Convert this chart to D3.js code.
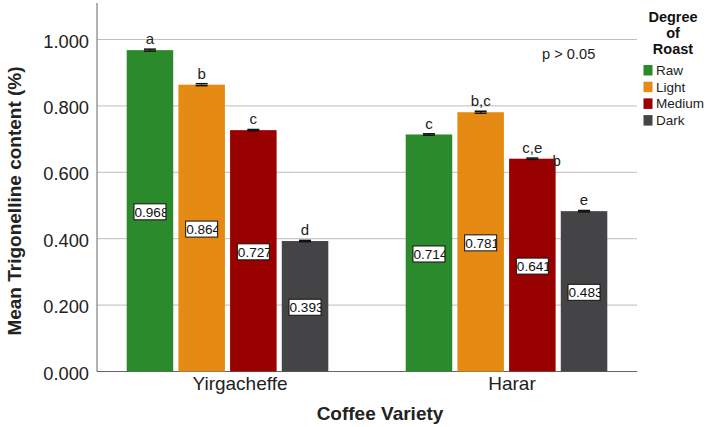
<!DOCTYPE html>
<html><head><meta charset="utf-8">
<script src="https://cdn.jsdelivr.net/npm/d3@7"></script>
<style>body{margin:0;background:#fff}svg{display:block;font-family:"Liberation Sans",Arial,sans-serif}</style>
</head><body><svg id="c" width="709" height="427"></svg>
<script>
const varieties = ["Yirgacheffe", "Harar"];
const roasts = ["Raw", "Light", "Medium", "Dark"];
const colors = ["#2b8a2b", "#e58b14", "#990000", "#444446"];
const yirgacheffe = [0.968, 0.864, 0.727, 0.393];
const harar = [0.714, 0.781, 0.641, 0.483];
const errors = [[0.003, 0.003, 0.002, 0.002], [0.002, 0.003, 0.002, 0.002]];
const letters = [["a", "b", "c", "d"], ["c", "b,c", "c,e", "e"]];
const yTicks = [0, 0.2, 0.4, 0.6, 0.8, 1.0];
const seriesValues = [yirgacheffe, harar];

(function() {
const svg = d3.select("#c");
const pLeft = 97, pRight = 637, pTop = 3, pBottom = 371.5;
const y = d3.scaleLinear().domain([0, 1.11]).range([pBottom, pTop]);
const x0 = d3.scaleBand().domain(varieties).range([88, 646]).padding(0);
const xLab = d3.scaleBand().domain(varieties).range([104, 648]).padding(0);
const x1 = d3.scaleBand().domain(roasts).range([38.7, 240.3]).paddingInner(0.1).paddingOuter(0);

// gridlines
svg.append("g").selectAll("line").data(yTicks).join("line")
  .attr("x1", pLeft).attr("x2", pRight)
  .attr("y1", d => y(d)).attr("y2", d => y(d))
  .attr("stroke", d => d === 0 ? "#666" : "#bdbdbd").attr("stroke-width", 1);

// y axis
const yAxis = d3.axisLeft(y).tickValues(yTicks).tickFormat(d3.format(".3f")).tickSize(0).tickPadding(8);
const ga = svg.append("g").attr("transform", `translate(${pLeft},0)`).call(yAxis);
ga.select(".domain").attr("stroke", "#666").attr("d", `M0,${pTop}V${pBottom}`);
ga.selectAll("text").attr("font-size", 18.3).attr("fill", "#222").attr("dy", "0.42em")
  .attr("font-family", "Liberation Sans, Arial, sans-serif");

// x axis labels
const xAxis = d3.axisBottom(xLab).tickSize(0).tickPadding(5);
const gx = svg.append("g").attr("transform", `translate(0,${pBottom})`).call(xAxis);
gx.select(".domain").remove();
gx.selectAll("text").attr("font-size", 19).attr("fill", "#222").attr("font-family", "Liberation Sans, Arial, sans-serif");

// bars
const defs = svg.append("defs");
const groups = svg.append("g").selectAll("g").data(varieties).join("g")
  .attr("transform", d => `translate(${x0(d)},0)`);
const bwid = 32, bh = 16;
groups.each(function(v, gi) {
  const g = d3.select(this);
  const vals = seriesValues[gi];
  roasts.forEach((r, i) => {
    const val = vals[i];
    const bx = x1(r), bw = x1.bandwidth();
    g.append("rect").attr("x", bx).attr("y", y(val)).attr("width", bw).attr("height", y(0) - y(val))
      .attr("fill", colors[i]);
    const cx = bx + bw / 2;
    const e = errors[gi][i];
    g.append("line").attr("x1", cx - 6).attr("x2", cx + 6).attr("y1", y(val + e)).attr("y2", y(val + e)).attr("stroke", "#111").attr("stroke-width", 1.5);
    g.append("line").attr("x1", cx - 6).attr("x2", cx + 6).attr("y1", y(val - e)).attr("y2", y(val - e)).attr("stroke", "#111").attr("stroke-width", 1.5);
    g.append("line").attr("x1", cx).attr("x2", cx).attr("y1", y(val + e)).attr("y2", y(val - e)).attr("stroke", "#111").attr("stroke-width", 1);
    g.append("text").attr("x", cx).attr("y", y(val + e) - 5).attr("text-anchor", "middle")
      .attr("font-size", 15).attr("fill", "#222").text(letters[gi][i]);
    const ly = y(val / 2) + 1;
    const id = `clip${gi}${i}`;
    defs.append("clipPath").attr("id", id).append("rect")
      .attr("x", x0(v) + cx - bwid / 2).attr("y", ly - bh / 2).attr("width", bwid).attr("height", bh);
    g.append("rect").attr("x", cx - bwid / 2).attr("y", ly - bh / 2).attr("width", bwid).attr("height", bh)
      .attr("fill", "#fff").attr("stroke", "#111").attr("stroke-width", 1);
  });
});
// value label texts (clipped)
varieties.forEach((v, gi) => {
  roasts.forEach((r, i) => {
    const val = seriesValues[gi][i];
    const cx = x0(v) + x1(r) + x1.bandwidth() / 2;
    const ly = y(val / 2) + 1;
    svg.append("text").attr("x", cx - bwid / 2 + 0.5).attr("y", ly + 5)
      .attr("clip-path", `url(#clip${gi}${i})`).attr("font-size", 13.6).attr("fill", "#111")
      .text(d3.format(".3f")(val));
  });
});

// stray "b" next to Harar Medium
svg.append("text").attr("x", x0("Harar") + x1("Medium") + x1.bandwidth() + 1).attr("y", y(harar[2]) + 7)
  .attr("text-anchor", "middle").attr("font-size", 15).attr("fill", "#222").text("b");

// p value
svg.append("text").attr("x", 568.7).attr("y", 59).attr("text-anchor", "middle").attr("font-size", 14.6).attr("fill", "#222").text("p > 0.05");

// axis titles
svg.append("text").attr("transform", `translate(21,201) rotate(-90)`)
  .attr("text-anchor", "middle").attr("font-size", 19).attr("font-weight", "bold").attr("fill", "#222")
  .text("Mean Trigonelline content (%)");
svg.append("text").attr("x", 380).attr("y", 420).attr("text-anchor", "middle")
  .attr("font-size", 19).attr("font-weight", "bold").attr("fill", "#222").text("Coffee Variety");

// legend
const lg = svg.append("g");
["Degree", "of", "Roast"].forEach((t, i) => {
  lg.append("text").attr("x", 673).attr("y", 22 + i * 16).attr("text-anchor", "middle")
    .attr("font-size", 14.5).attr("font-weight", "bold").attr("fill", "#111").text(t);
});
roasts.forEach((r, i) => {
  const yy = 65 + i * 16.7;
  lg.append("rect").attr("x", 643.5).attr("y", yy).attr("width", 9).attr("height", 10.5).attr("fill", colors[i]);
  lg.append("text").attr("x", 656).attr("y", yy + 10).attr("font-size", 13.5).attr("fill", "#222").text(r);
});
})();
</script></body></html>
